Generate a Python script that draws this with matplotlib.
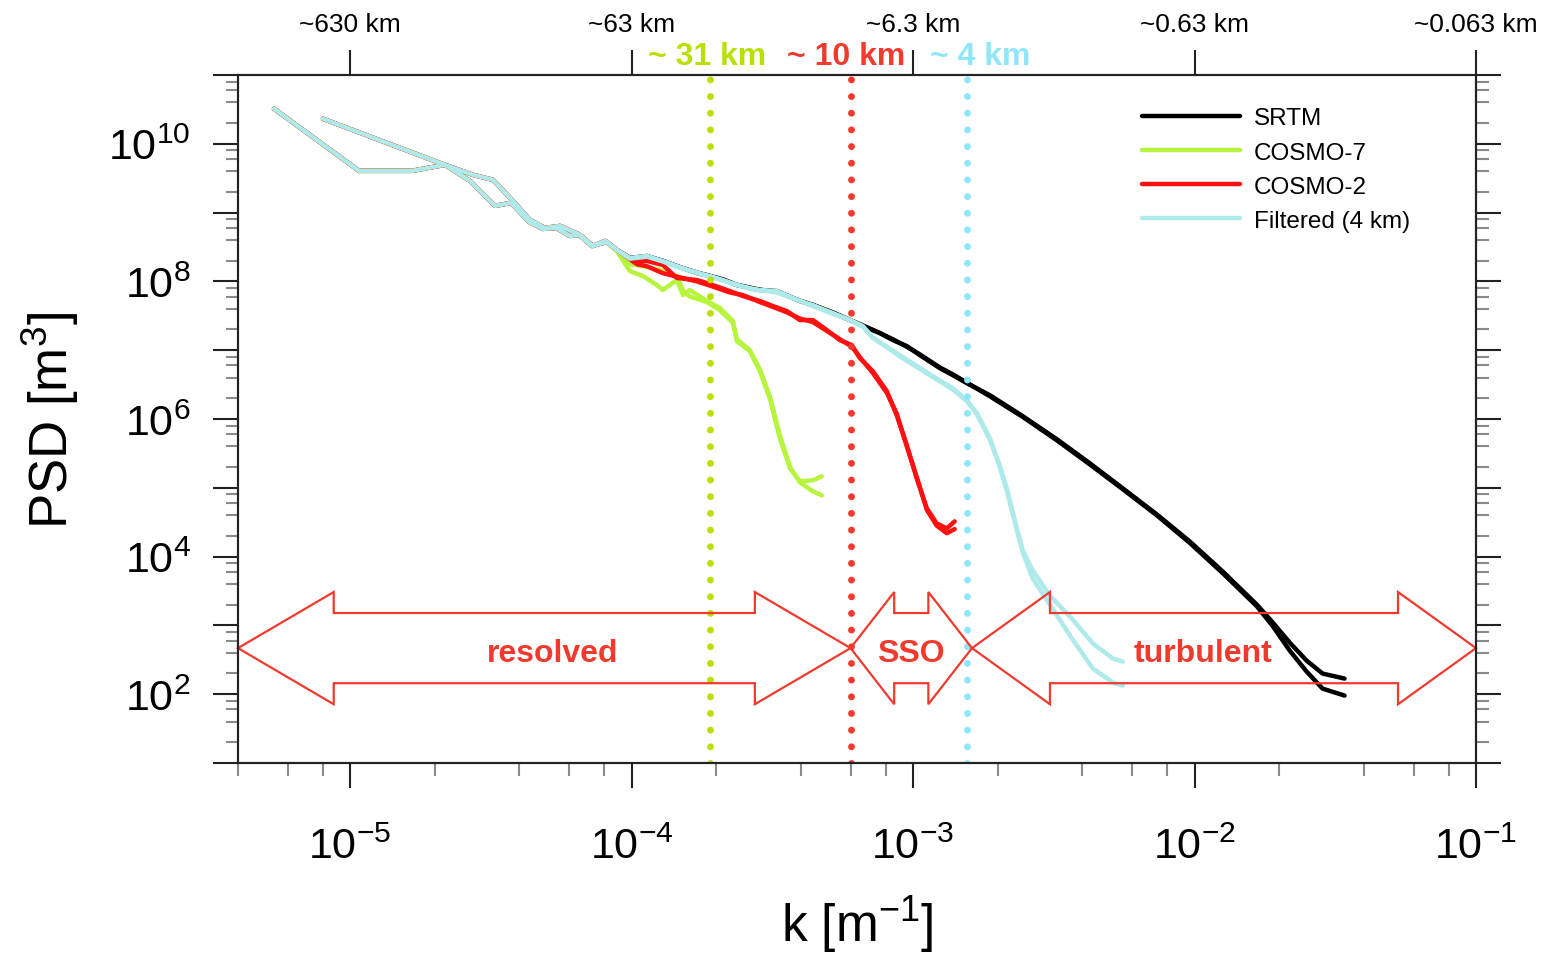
import numpy as np
import matplotlib
matplotlib.use('Agg')
import matplotlib.pyplot as plt
from matplotlib.patches import Polygon
from matplotlib.ticker import LogLocator, NullFormatter, NullLocator

plt.rcParams['font.family'] = ['Liberation Sans', 'DejaVu Sans']
plt.rcParams['mathtext.default'] = 'regular'

#DATA (log10 of k [1/m] and of PSD [m^3])

#lowest wavenumbers: all four fields give the same spectrum (two directions a / b)
low_a_logk = [-5.27, -4.968, -4.78, -4.663, -4.574, -4.485, -4.428, -4.364, -4.315, -4.268, -4.219, -4.183, -4.137, -4.094]
low_a_logpsd = [10.51, 9.607, 9.607, 9.694, 9.461, 9.098, 9.141, 8.865, 8.763, 8.777, 8.661, 8.675, 8.515, 8.588]
low_b_logk = [-5.096, -4.663, -4.563, -4.492, -4.421, -4.361, -4.308, -4.254, -4.19, -4.141, -4.087]
low_b_logpsd = [10.364, 9.694, 9.549, 9.476, 9.170, 8.894, 8.777, 8.806, 8.690, 8.515, 8.573]

#SRTM
srtm_logk = [-4.052, -4.006, -3.945, -3.889, -3.839, -3.768, -3.722, -3.675, -3.626, -3.580,
             -3.544, -3.484, -3.402, -3.356, -3.285, -3.224, -3.178, -3.118, -3.072, -3.022,
             -2.976, -2.905, -2.859, -2.809, -2.727, -2.61, -2.489, -2.372, -2.255, -2.134,
             -2.017, -1.9, -1.779, -1.722, -1.662, -1.602, -1.545, -1.467]
srtm_a = [8.457, 8.341, 8.370, 8.297, 8.224, 8.122, 8.079, 8.020, 7.948, 7.904,
          7.875, 7.860, 7.715, 7.656, 7.540, 7.438, 7.351, 7.249, 7.147, 7.060,
          6.929, 6.739, 6.638, 6.521, 6.346, 6.041, 5.706, 5.357, 4.993, 4.614,
          4.221, 3.785, 3.304, 3.042, 2.751, 2.489, 2.3, 2.227]
srtm_b = [8.457, 8.34, 8.36, 8.30, 8.22, 8.13, 8.08, 8.03, 7.95, 7.91,
          7.88, 7.85, 7.72, 7.66, 7.55, 7.44, 7.36, 7.25, 7.16, 7.05,
          6.94, 6.75, 6.65, 6.53, 6.33, 6.03, 5.69, 5.34, 4.98, 4.60,
          4.20, 3.76, 3.28, 2.99, 2.635, 2.33, 2.081, 1.98]

#COSMO-7
c7_logk = [-4.052, -4.006, -3.96, -3.91, -3.889, -3.839, -3.817, -3.793, -3.732, -3.686,
           -3.64, -3.626, -3.58, -3.544, -3.509, -3.473, -3.437, -3.402, -3.356, -3.324]
c7_a = [8.443, 8.151, 8.079, 7.948, 7.875, 8.02, 7.802, 7.875, 7.715, 7.613,
        7.424, 7.132, 6.987, 6.696, 6.303, 5.72, 5.284, 5.095, 5.109, 5.167]
c7_b = [8.443, 8.25, 8.22, 8.18, 8.15, 8.08, 7.86, 7.78, 7.70, 7.58,
        7.40, 7.16, 7.00, 6.72, 6.33, 5.76, 5.30, 5.08, 4.95, 4.89]

#COSMO-2
c2_logk = [-4.052, -3.981, -3.945, -3.889, -3.839, -3.768, -3.722, -3.651, -3.604, -3.544,
           -3.498, -3.448, -3.402, -3.356, -3.306, -3.260, -3.217, -3.189, -3.143, -3.093,
           -3.058, -3.022, -2.987, -2.951, -2.916, -2.880, -2.852]
c2_a = [8.457, 8.282, 8.297, 8.239, 8.05, 8.02, 7.962, 7.86, 7.787, 7.715,
        7.642, 7.569, 7.438, 7.438, 7.293, 7.147, 7.074, 6.885, 6.696, 6.405,
        6.055, 5.619, 5.138, 4.702, 4.483, 4.41, 4.512]
c2_b = [8.457, 8.25, 8.22, 8.12, 8.07, 8.00, 7.94, 7.84, 7.80, 7.70,
        7.63, 7.55, 7.46, 7.41, 7.28, 7.16, 7.05, 6.90, 6.67, 6.38,
        6.08, 5.60, 5.16, 4.68, 4.45, 4.34, 4.40]

#Filtered (4 km)
filt_logk = [-4.052, -4.006, -3.945, -3.889, -3.839, -3.768, -3.722, -3.675, -3.626, -3.580,
             -3.544, -3.484, -3.402, -3.356, -3.285, -3.224, -3.178, -3.143, -3.047, -2.93,
             -2.859, -2.809, -2.773, -2.727, -2.692, -2.667, -2.631, -2.61, -2.575, -2.514,
             -2.433, -2.361, -2.29, -2.255]
filt_a = [8.457, 8.341, 8.370, 8.297, 8.224, 8.122, 8.079, 8.020, 7.948, 7.904,
          7.875, 7.860, 7.715, 7.656, 7.540, 7.438, 7.351, 7.176, 6.929, 6.623,
          6.448, 6.274, 6.084, 5.72, 5.328, 4.993, 4.41, 4.09, 3.799, 3.435,
          3.086, 2.737, 2.518, 2.474]
filt_b = [8.457, 8.33, 8.36, 8.29, 8.21, 8.13, 8.07, 8.01, 7.95, 7.89,
          7.87, 7.84, 7.72, 7.64, 7.53, 7.44, 7.34, 7.19, 6.91, 6.61,
          6.43, 6.26, 6.07, 5.70, 5.30, 4.96, 4.38, 4.06, 3.683, 3.304,
          2.795, 2.373, 2.169, 2.125]

names = ['SRTM', 'COSMO-7', 'COSMO-2', 'Filtered (4 km)']
colors = ['black', '#b6f43e', '#ff1010', '#aeeaea']

#effective resolution markers
cut_k = [1.9e-4, 6.0e-4, 1.55e-3]
cut_labels = ['~ 31 km', '~ 10 km', '~ 4 km']
cut_colors = ['#b8e000', '#f03a2e', '#8ee6fb']

#scale ranges shown with the big arrows
region_names = ['resolved', 'SSO', 'turbulent']
region_edges = [4e-6, 6.0e-4, 1.62e-3, 1e-1]

top_ticks = [1e-5, 1e-4, 1e-3, 1e-2, 1e-1]
top_labels = ['~630 km', '~63 km', '~6.3 km', '~0.63 km', '~0.063 km']

#PLOT
W, H = 1547, 954
fig = plt.figure(figsize=(W / 100, H / 100), dpi=100)
ax = fig.add_axes([238 / W, 1 - 764 / H, 1238 / W, 688 / H])
ax.set_xscale('log')
ax.set_yscale('log')
ax.set_xlim(4e-6, 1e-1)
ax.set_ylim(1e1, 1e11)

series = [(srtm_logk, srtm_a, srtm_b), (c7_logk, c7_a, c7_b),
          (c2_logk, c2_a, c2_b), (filt_logk, filt_a, filt_b)]
handles = []
for name, col, (lk, pa, pb) in zip(names, colors, series):
    for lowk, lowp, p in ((low_a_logk, low_a_logpsd, pa), (low_b_logk, low_b_logpsd, pb)):
        k = 10.0 ** np.array(lowk + lk)
        psd = 10.0 ** np.array(lowp + p)
        line, = ax.plot(k, psd, color=col, lw=3.2, solid_joinstyle='round', solid_capstyle='round', zorder=2)
    handles.append(line)

#dotted verticals + coloured km labels above the frame
label_shift = [-3, -4, 14]
for k, lab, c, dx in zip(cut_k, cut_labels, cut_colors, label_shift):
    ax.axvline(k, color=c, lw=5, ls=(0, (0.001, 2.4)), dash_capstyle='round', zorder=4)
    ax.annotate(lab, xy=(k, 1), xycoords=('data', 'axes fraction'), xytext=(dx, 19),
                textcoords='offset pixels', ha='center', va='center', fontsize=23,
                fontweight='bold', color=c, annotation_clip=False)

#double arrows
red = '#f03a2e'
head_len = [0.34, 0.155, 0.277]
text_shift = [8, 0, -21]
for name, x0, x1, hl, dx in zip(region_names, region_edges[:-1], region_edges[1:], head_len, text_shift):
    a, b = np.log10(x0), np.log10(x1)
    xs = [a, a + hl, a + hl, b - hl, b - hl, b, b - hl, b - hl, a + hl, a + hl]
    ys = [2.67, 3.485, 3.18, 3.18, 3.485, 2.67, 1.854, 2.16, 2.16, 1.854]
    verts = np.column_stack([10.0 ** np.array(xs), 10.0 ** np.array(ys)])
    ax.add_patch(Polygon(verts, closed=True, fill=False, ec=red, lw=1.6, clip_on=False, zorder=5))
    ax.annotate(name, xy=(10 ** ((a + b) / 2), 10 ** 2.60), xytext=(dx, 0), textcoords='offset pixels',
                ha='center', va='center', fontsize=23, fontweight='bold', color=red, zorder=6)

#ticks
ax.set_xticks(top_ticks)
ax.set_xticklabels([r'$10^{%d}$' % e for e in range(-5, 0)])
ax.xaxis.set_minor_locator(LogLocator(base=10, subs=(2, 4, 6, 8), numticks=100))
ax.xaxis.set_minor_formatter(NullFormatter())
ax.set_yticks(10.0 ** np.arange(1, 12))
ax.set_yticklabels([r'$10^{%d}$' % e if e % 2 == 0 else '' for e in range(1, 12)])
ax.yaxis.set_minor_locator(LogLocator(base=10, subs=(2, 4, 6, 8), numticks=100))
ax.yaxis.set_minor_formatter(NullFormatter())
ax.tick_params(which='major', direction='out', length=18, width=1.5, labelsize=31,
               right=True, top=False, color='#222222')
ax.tick_params(axis='x', which='major', pad=28)
ax.tick_params(axis='y', which='major', pad=16)
ax.tick_params(which='minor', direction='out', length=9, width=1.5, color='#8a8a8a',
               right=True, top=False)

ax_top = ax.twiny()
ax_top.set_xscale('log')
ax_top.set_xlim(ax.get_xlim())
ax_top.set_xticks(top_ticks)
ax_top.set_xticklabels(top_labels)
ax_top.xaxis.set_minor_locator(NullLocator())
ax_top.tick_params(direction='out', length=18, width=1.5, labelsize=19, pad=10, color='#222222')

for a_ in (ax, ax_top):
    for s in a_.spines.values():
        s.set_linewidth(1.5)
        s.set_color('#222222')

ax.set_xlabel(r'k [m$^{-1}$]', fontsize=37)
ax.xaxis.label.set_va('center')
ax.xaxis.set_label_coords(0.5, (764 - 925) / 688)
ax.set_ylabel(r'PSD [m$^{3}$]', fontsize=38)
ax.yaxis.label.set_va('center')
ax.yaxis.set_label_coords((50 - 238) / 1238, 0.5)

ax.legend(handles, names, loc='upper left', bbox_to_anchor=(0.730, 0.953), frameon=False,
          fontsize=17.5, handlelength=4.05, handletextpad=0.55, labelspacing=0.5,
          borderpad=0, borderaxespad=0)

fig.savefig('out.png', dpi=100)
